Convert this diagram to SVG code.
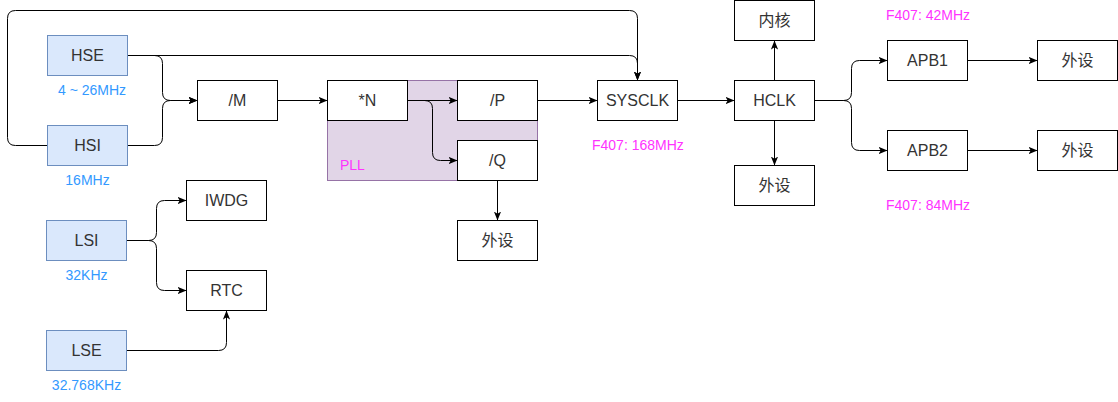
<svg xmlns="http://www.w3.org/2000/svg" width="1118" height="402" viewBox="0 0 1118 402">
<style>
.box{fill:#fff;stroke:#000;stroke-width:1}
.src{fill:#dae8fc;stroke:#6c8ebf;stroke-width:1}
.t{font-family:"Liberation Sans",Arial,"Noto Sans CJK SC",sans-serif;font-size:16px;fill:#333;text-anchor:middle}
.blue{font-family:"Liberation Sans",Arial,sans-serif;font-size:14px;fill:#3399ff;text-anchor:middle}
.pink{font-family:"Liberation Sans",Arial,sans-serif;font-size:14px;fill:#ff33ff}
.e{fill:none;stroke:#000;stroke-width:1;marker-end:url(#arr)}
.l{fill:none;stroke:#000;stroke-width:1}
</style>
<defs>
<marker id="arr" viewBox="0 0 10 8" markerWidth="9" markerHeight="7.2" refX="10" refY="4" orient="auto" markerUnits="userSpaceOnUse">
<path d="M0,0 L10,4 L0,8 L2.5,4 Z" fill="#000"/>
</marker>
</defs>
<rect width="1118" height="402" fill="#fff"/>
<g id="pll">
<rect x="327.5" y="80.5" width="210" height="100" fill="#e1d5e7" stroke="#9673a6"/>
<text class="pink" x="340" y="170">PLL</text>
</g>
<g id="connectors">
<path class="e" d="M127.5,55.5 H154.5 Q162.5,55.5 162.5,63.5 V92.5 Q162.5,100.5 170.5,100.5 H197.5"/>
<path class="e" d="M127.5,145.5 H154.5 Q162.5,145.5 162.5,137.5 V108.5 Q162.5,100.5 170.5,100.5 H197.5"/>
<path class="e" d="M127.5,55.5 H629.5 Q637.5,55.5 637.5,63.5 V80.5"/>
<path class="e" d="M47.5,145.5 H15.5 Q7.5,145.5 7.5,137.5 V18.5 Q7.5,10.5 15.5,10.5 H629.5 Q637.5,10.5 637.5,18.5 V80.5"/>
<path class="e" d="M277.5,100.5 H327.5"/>
<path class="e" d="M407.5,100.5 H457.5"/>
<path class="e" d="M407.5,100.5 H424.5 Q432.5,100.5 432.5,108.5 V152.5 Q432.5,160.5 440.5,160.5 H457.5"/>
<path class="e" d="M537.5,100.5 H597.5"/>
<path class="e" d="M497.5,180.5 V220.5"/>
<path class="e" d="M677.5,100.5 H734.5"/>
<path class="e" d="M774.5,80.5 V40.5"/>
<path class="e" d="M774.5,120.5 V165.5"/>
<path class="e" d="M814.5,100.5 H843.5 Q851.5,100.5 851.5,92.5 V68.5 Q851.5,60.5 859.5,60.5 H887.5"/>
<path class="e" d="M814.5,100.5 H843.5 Q851.5,100.5 851.5,108.5 V142.5 Q851.5,150.5 859.5,150.5 H887.5"/>
<path class="e" d="M967.5,60.5 H1037.5"/>
<path class="e" d="M967.5,150.5 H1037.5"/>
<path class="e" d="M126.5,240.5 H148.5 Q156.5,240.5 156.5,232.5 V208.5 Q156.5,200.5 164.5,200.5 H186.5"/>
<path class="e" d="M126.5,240.5 H148.5 Q156.5,240.5 156.5,248.5 V282.5 Q156.5,290.5 164.5,290.5 H186.5"/>
<path class="e" d="M126.5,350.5 H218.5 Q226.5,350.5 226.5,342.5 V310.5"/>
</g>
<g id="hse"><rect class="src" x="47.5" y="35.5" width="80" height="40"/><text class="t" x="87.5" y="61">HSE</text><text class="blue" x="92" y="95">4 ~ 26MHz</text></g>
<g id="hsi"><rect class="src" x="47.5" y="125.5" width="80" height="40"/><text class="t" x="87.5" y="151">HSI</text><text class="blue" x="87.5" y="185">16MHz</text></g>
<g id="lsi"><rect class="src" x="46.5" y="220.5" width="80" height="40"/><text class="t" x="86.5" y="246">LSI</text><text class="blue" x="86.5" y="280">32KHz</text></g>
<g id="lse"><rect class="src" x="46.5" y="330.5" width="80" height="40"/><text class="t" x="86.5" y="356">LSE</text><text class="blue" x="86.5" y="390">32.768KHz</text></g>
<g id="m"><rect class="box" x="197.5" y="80.5" width="80" height="40"/><text class="t" x="237.5" y="106">/M</text></g>
<g id="n"><rect class="box" x="327.5" y="80.5" width="80" height="40"/><text class="t" x="367.5" y="106">*N</text></g>
<g id="p"><rect class="box" x="457.5" y="80.5" width="80" height="40"/><text class="t" x="497.5" y="106">/P</text></g>
<g id="q"><rect class="box" x="457.5" y="140.5" width="80" height="40"/><text class="t" x="497.5" y="166">/Q</text></g>
<g id="periph-q"><rect class="box" x="457.5" y="220.5" width="80" height="40"/><text class="t" x="497.5" y="246">外设</text></g>
<g id="sysclk"><rect class="box" x="597.5" y="80.5" width="80" height="40"/><text class="t" x="637.5" y="106">SYSCLK</text><text class="pink" x="592" y="150">F407: 168MHz</text></g>
<g id="hclk"><rect class="box" x="734.5" y="80.5" width="80" height="40"/><text class="t" x="774.5" y="106">HCLK</text></g>
<g id="core"><rect class="box" x="734.5" y="0.5" width="80" height="40"/><text class="t" x="774.5" y="26">内核</text></g>
<g id="periph-h"><rect class="box" x="734.5" y="165.5" width="80" height="40"/><text class="t" x="774.5" y="191">外设</text></g>
<g id="apb1"><rect class="box" x="887.5" y="40.5" width="80" height="40"/><text class="t" x="927.5" y="66">APB1</text><text class="pink" x="886" y="20">F407: 42MHz</text></g>
<g id="apb2"><rect class="box" x="887.5" y="130.5" width="80" height="40"/><text class="t" x="927.5" y="156">APB2</text><text class="pink" x="886" y="210">F407: 84MHz</text></g>
<g id="periph-1"><rect class="box" x="1037.5" y="40.5" width="80" height="40"/><text class="t" x="1077.5" y="66">外设</text></g>
<g id="periph-2"><rect class="box" x="1037.5" y="130.5" width="80" height="40"/><text class="t" x="1077.5" y="156">外设</text></g>
<g id="iwdg"><rect class="box" x="186.5" y="180.5" width="80" height="40"/><text class="t" x="226.5" y="206">IWDG</text></g>
<g id="rtc"><rect class="box" x="186.5" y="270.5" width="80" height="40"/><text class="t" x="226.5" y="296">RTC</text></g>
</svg>
